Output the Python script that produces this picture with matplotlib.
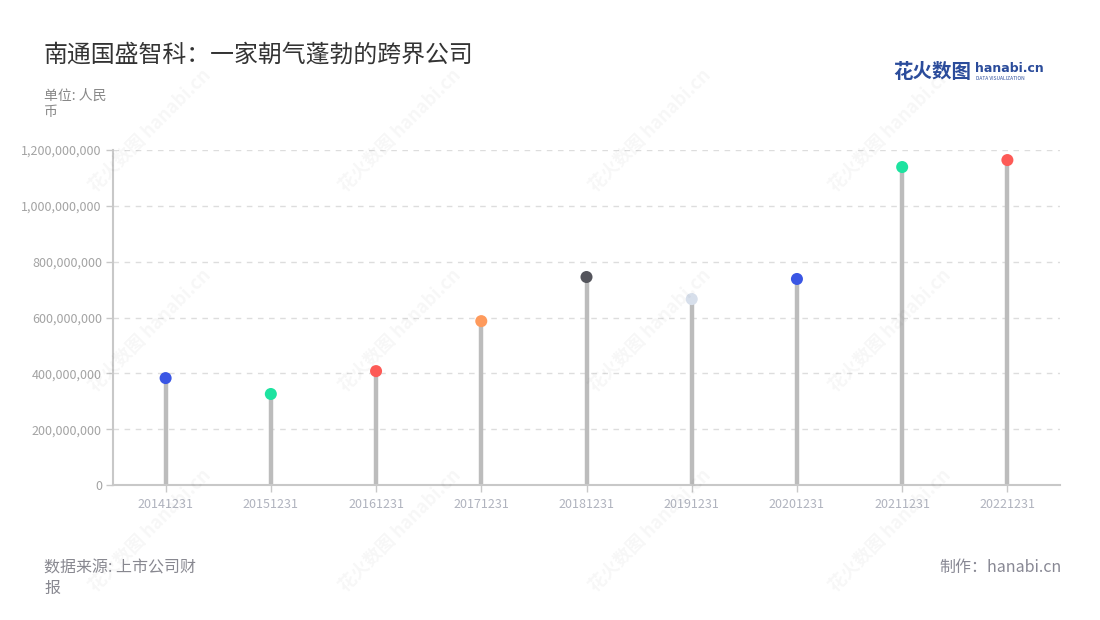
import matplotlib
matplotlib.use("Agg")
import matplotlib.pyplot as plt
from matplotlib.ticker import FuncFormatter, MultipleLocator

plt.rcParams['font.family'] = ['Noto Sans CJK SC', 'DejaVu Sans']

dates = ["20141231", "20151231", "20161231", "20171231", "20181231",
         "20191231", "20201231", "20211231", "20221231"]
values = [383e6, 326e6, 408e6, 587e6, 745e6, 666e6, 738e6, 1139e6, 1164e6]
colors = ["#3a56e4", "#1de3a0", "#fd5a56", "#fe9a5c", "#54555c",
          "#d7dfeb", "#3a56e4", "#1de3a0", "#fd5a56"]

title = "南通国盛智科：一家朝气蓬勃的跨界公司"
unit = "单位: 人民\n币"
source = "数据来源: 上市公司财\n报"
credit = "制作：hanabi.cn"

W, H = 1100, 620
fig = plt.figure(figsize=(W / 100, H / 100), dpi=100)
ax = fig.add_axes([113 / W, (H - 485) / H, 947 / W, 335 / H])

x = list(range(len(dates)))
ax.vlines(x, 0, values, color="#bcbcbc", linewidth=3.2, zorder=2)
ax.scatter(x, values, s=75, c=colors, zorder=3, edgecolors="none")

ax.set_xlim(-0.5, len(dates) - 0.5)
ax.set_ylim(0, 1.2e9)
ax.yaxis.set_major_locator(MultipleLocator(2e8))
ax.yaxis.set_major_formatter(FuncFormatter(lambda v, p: f"{int(round(v)):,}"))
ax.set_xticks(x)
ax.set_xticklabels(dates)

ax.grid(axis="y", color="#dddddd", linestyle=(0, (4, 4)), linewidth=1)
ax.set_axisbelow(True)
for s in ["top", "right"]:
    ax.spines[s].set_visible(False)
for s in ["left", "bottom"]:
    ax.spines[s].set_color("#c8c8c8")
    ax.spines[s].set_linewidth(1.5)
ax.tick_params(axis="y", colors="#c8c8c8", labelcolor="#a3a3a3", labelsize=9, length=5, width=1, pad=3)
ax.tick_params(axis="x", colors="#c8c8c8", labelcolor="#b0b3be", labelsize=9, length=5, width=1, pad=4)

# watermarks
for (wx, wy) in [(400, 130), (650, 130), (890, 130), (150, 330), (400, 330), (650, 330), (890, 330),
                 (150, 530), (400, 530), (650, 530), (890, 530), (150, 130)]:
    fig.text(wx / W, 1 - wy / H, "花火数图 hanabi.cn", rotation=45, fontsize=13,
             color="#000000", alpha=0.035, ha="center", va="center", fontweight="bold")

fig.text(44 / W, 1 - 55 / H, title, fontsize=17.2, color="#333333", ha="left", va="center")
fig.text(44 / W, 1 - 104 / H, unit, fontsize=10, color="#888888", ha="left", va="center", linespacing=1.2)
fig.text(44 / W, 1 - 578 / H, source, fontsize=11.5, color="#888890", ha="left", va="center", linespacing=1.25)
fig.text(1062 / W, 1 - 567 / H, credit, fontsize=11.5, color="#888894", ha="right", va="center")

# logo
fig.text(893 / W, 1 - 72 / H, "花火数图", fontsize=14, color="#2b4c9b", ha="left", va="center", fontweight="bold")
fig.text(975 / W, 1 - 69 / H, "hanabi.cn", fontsize=9, color="#2b4c9b", ha="left", va="center", fontweight="bold",
         family=["DejaVu Sans"])
fig.text(976 / W, 1 - 79 / H, "DATA VISUALIZATION", fontsize=3.5, color="#2b4c9b", ha="left", va="center")

fig.savefig("out.png", dpi=100)
